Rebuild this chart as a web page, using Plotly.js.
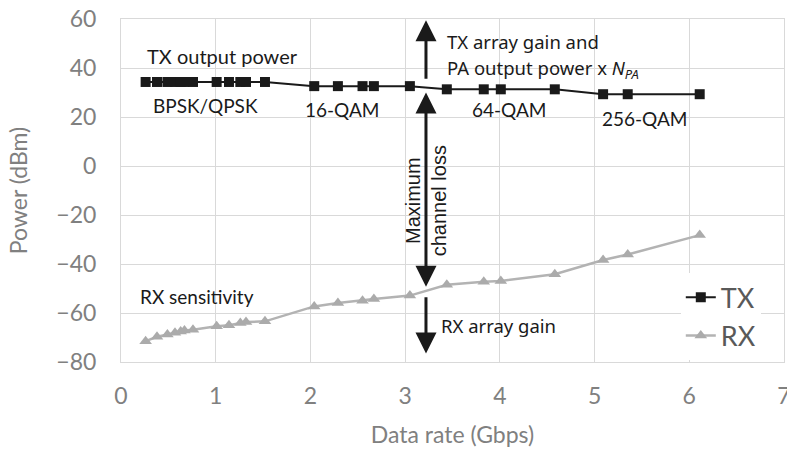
<!DOCTYPE html>
<html>
<head>
<meta charset="utf-8">
<script src="https://cdn.plot.ly/plotly-3.0.1.min.js"></script>
<style>html,body{margin:0;padding:0;background:#fff}</style>
</head>
<body>
<div id="chart" style="width:787px;height:451px"></div>
<script>
// Data rate (Gbps) for each modulation/coding point
const dataRate = [0.26, 0.38, 0.49, 0.57, 0.63, 0.67, 0.76, 1.01, 1.14, 1.26, 1.32, 1.52,
                  2.04, 2.29, 2.55, 2.67, 3.05,
                  3.44, 3.83, 4.01, 4.58,
                  5.09, 5.35, 6.11];
// TX output power (dBm)
const txPower = [34.3, 34.3, 34.3, 34.3, 34.3, 34.3, 34.3, 34.3, 34.3, 34.3, 34.3, 34.3,
                 32.6, 32.6, 32.6, 32.6, 32.6,
                 31.3, 31.3, 31.3, 31.3,
                 29.3, 29.3, 29.3];
// RX sensitivity (dBm)
const rxSens = [-71.5, -69.7, -68.8, -68.1, -67.5, -67.1, -66.8, -65.4, -65.0, -64.1, -63.7, -63.4,
                -57.3, -55.9, -55.0, -54.3, -52.9,
                -48.5, -47.2, -46.9, -44.2,
                -38.4, -36.1, -28.2];
const seriesNames = ['TX', 'RX'];
const xTitle = 'Data rate (Gbps)';
const yTitle = 'Power (dBm)';

const traces = [
  {x: dataRate, y: txPower, name: seriesNames[0], type: 'scatter', mode: 'lines+markers',
   line: {color: '#1a1a1a', width: 2}, marker: {symbol: 'square', size: 10, color: '#1a1a1a'}},
  {x: dataRate, y: rxSens, name: seriesNames[1], type: 'scatter', mode: 'lines+markers',
   line: {color: '#b3b3b3', width: 2.5}, marker: {symbol: 'triangle-up', size: 11, color: '#ababab'}}
];

const lato = {family: 'Lato, sans-serif', size: 19, color: '#1a1a1a'};
const myr = {family: '"Noto Sans", sans-serif', size: 18.5, color: '#1a1a1a'};
function txt(x, y, text, font, extra) {
  return Object.assign({x: x, y: y, xref: 'x', yref: 'y', text: text, showarrow: false,
    xanchor: 'left', yanchor: 'middle', font: font}, extra || {});
}
function arr(x, y, ay, extra) {
  return Object.assign({x: x, y: y, ax: x, ay: ay, xref: 'x', yref: 'y', axref: 'x', ayref: 'y',
    text: '', showarrow: true, arrowhead: 2, arrowsize: 1.4, arrowwidth: 3, arrowcolor: '#1a1a1a',
    standoff: 0, startstandoff: 0}, extra || {});
}
const arrowX = 3.22;
const annotations = [
  txt(0.25, 44.8, 'TX output power', Object.assign({}, lato, {size: 20})),
  txt(0.32, 24.7, 'BPSK/QPSK', lato),
  txt(1.92, 22.9, '16-QAM', lato),
  txt(3.68, 22.9, '64-QAM', lato),
  txt(5.06, 19.5, '256-QAM', lato),
  txt(0.175, -53.2, 'RX sensitivity', lato),
  txt(3.42, 51, 'TX array gain and', myr),
  txt(3.42, 39.5, 'PA output power x <i>N<sub>PA</sub></i>', myr),
  txt(3.36, -65, 'RX array gain', myr),
  {x: arrowX, y: -14, xref: 'x', yref: 'y', text: 'Maximum<br>channel loss', showarrow: false,
   textangle: -90, xanchor: 'center', yanchor: 'middle',
   font: {family: '"Liberation Sans", Arial, sans-serif', size: 20, color: '#1a1a1a'}},
  arr(arrowX, 59.5, 35),
  arr(arrowX, -49.3, 30.6, {arrowside: 'end+start', startarrowhead: 2, startarrowsize: 1.4}),
  arr(arrowX, -76.5, -53)
];

const axisCommon = {
  showgrid: true, gridcolor: '#d9d9d9', gridwidth: 1,
  showline: true, mirror: true, linecolor: '#d9d9d9', linewidth: 1,
  zeroline: false, ticks: '', ticklabeloverflow: 'allow',
  tickfont: {family: 'Lato, sans-serif', size: 23, color: '#808080'}
};
const titleFont = {family: 'Lato, sans-serif', size: 23, color: '#808080'};

const layout = {
  width: 787, height: 451,
  margin: {l: 121, r: 3, t: 19, b: 89},
  paper_bgcolor: '#ffffff', plot_bgcolor: '#ffffff',
  font: {family: 'Lato, sans-serif'},
  xaxis: Object.assign({}, axisCommon, {range: [0, 7], dtick: 1, tick0: 0, ticklabelstandoff: 13,
    title: {text: xTitle, standoff: 19, font: titleFont}}),
  yaxis: Object.assign({}, axisCommon, {range: [-80, 60], dtick: 20, tick0: 0, ticklabelstandoff: 19,
    title: {text: yTitle, standoff: 22, font: titleFont}}),
  showlegend: true,
  legend: {x: 0.965, xanchor: 'right', y: 0.005, yanchor: 'bottom', bgcolor: '#ffffff',
    font: {family: 'Lato, sans-serif', size: 27, color: '#595959'}, tracegroupgap: 0,
    itemwidth: 30},
  annotations: annotations
};

Plotly.newPlot('chart', traces, layout, {displayModeBar: false, staticPlot: true});
</script>
</body>
</html>
